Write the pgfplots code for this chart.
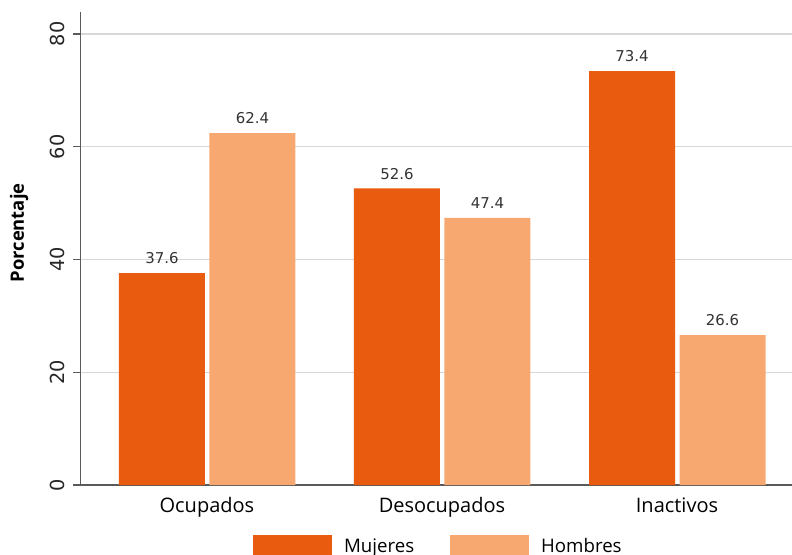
\documentclass[border=0pt]{standalone}
\usepackage{fontspec}
\setmainfont{Open Sans}
\newfontfamily\dejavu{DejaVu Sans}
\usepackage{pgfplots}
\pgfplotsset{compat=1.18}
\definecolor{dark}{RGB}{233,91,14}
\definecolor{light}{RGB}{246,168,112}
\definecolor{gridc}{RGB}{215,215,215}
\definecolor{axc}{RGB}{90,90,90}
\begin{document}
\begin{tikzpicture}
\begin{axis}[
  at={(0,0)}, anchor=south west,
  scale only axis,
  width=533.6pt, height=354.75pt,
  ybar, bar width=64.5pt,
  xmin=-0.538, xmax=2.489,
  ymin=0, ymax=83.9,
  xtick={0,1,2},
  xticklabels={Ocupados,Desocupados,Inactivos},
  xtick style={draw=none},
  xticklabel style={font=\fontsize{15}{18}\selectfont, text=black, yshift=-0.5pt},
  ytick={0,20,40,60,80},
  yticklabel style={anchor=south, xshift=-3pt, rotate=90, font=\dejavu\fontsize{14.5}{16}\selectfont, text=black!85},
  /pgf/number format/assume math mode=true,
  ytick style={axc, line width=0.8pt},
  tick align=outside,
  major tick length=5.5pt,
  axis x line*=bottom, axis y line*=left,
  axis line style={axc, line width=0.9pt, -},
  ymajorgrids, grid style={gridc, line width=0.8pt},
  ylabel={\bfseries Porcentaje},
  ylabel style={font=\fontsize{13.8}{16}\selectfont, at={(axis description cs:-0.0863,0.533)}, anchor=center},
  nodes near coords={\pgfmathprintnumber[fixed,precision=1,fixed zerofill]{\pgfplotspointmeta}},
  nodes near coords style={font=\dejavu\fontsize{11.2}{13}\selectfont, text=black!80, anchor=base, yshift=7pt},
  legend columns=2,
  legend style={at={(axis description cs:0.2425,-0.1057)}, anchor=north west, draw=none, inner sep=0pt, outer sep=0pt,
    font=\fontsize{14}{16}\selectfont,
    /tikz/every even column/.append style={column sep=27pt},
    nodes={inner sep=0pt, anchor=west}},
  legend image code/.code={\fill[#1,draw=none] (0pt,-8.5pt) rectangle (59.25pt,8.5pt);},
  legend cell align=left,
]
\addplot[fill=dark, draw=none, bar shift=-33.75pt] coordinates {(0,37.6) (1,52.6) (2,73.4)};
\addplot[fill=light, draw=none, bar shift=34.1pt] coordinates {(0,62.4) (1,47.4) (2,26.6)};
\legend{\hspace{9pt}Mujeres,\hspace{9pt}Hombres}
\end{axis}
\pgfresetboundingbox
\path[use as bounding box] (-60.375pt,-51.75pt) rectangle (533.625pt,363.75pt);
\end{tikzpicture}
\end{document}
